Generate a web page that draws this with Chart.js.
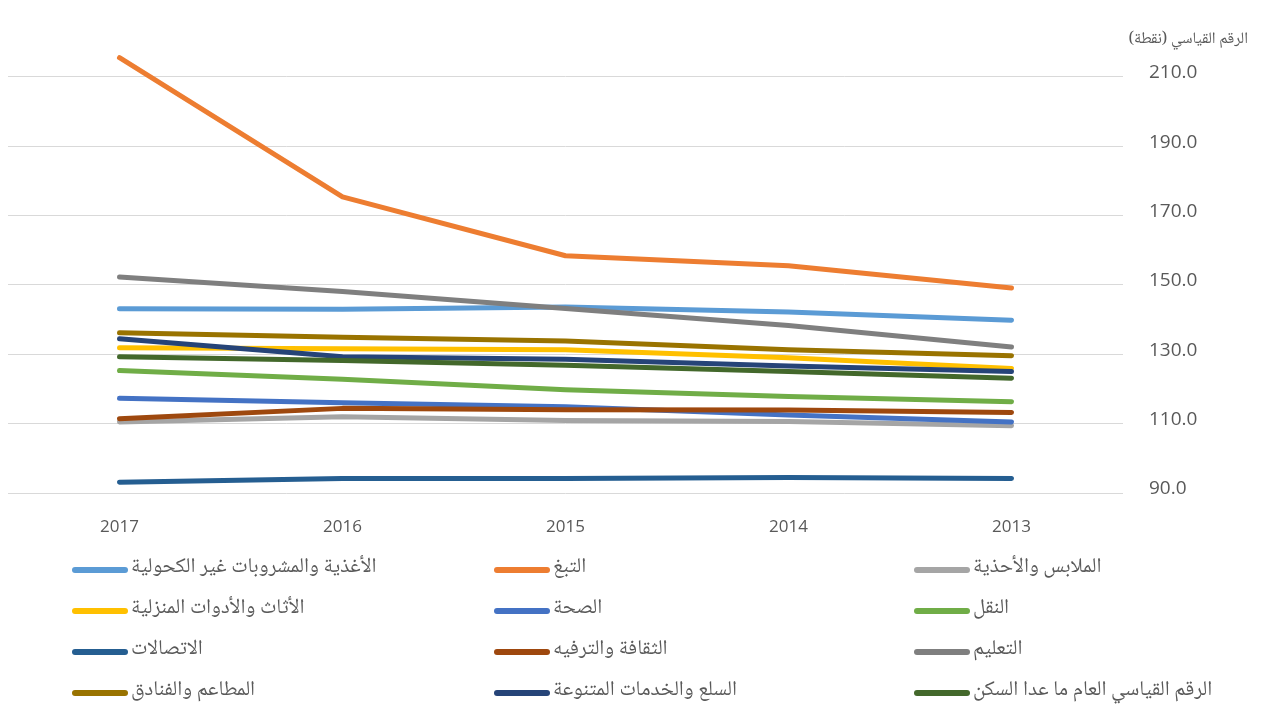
<!DOCTYPE html>
<html>
<head>
<meta charset="utf-8">
<script src="https://cdn.jsdelivr.net/npm/chart.js@4.4.0/dist/chart.umd.min.js"></script>
<style>
html,body{margin:0;padding:0;background:#fff;}
#wrap{position:relative;width:1273px;height:707px;overflow:hidden;}
#c{position:absolute;left:0;top:0;}
#legend{position:absolute;left:0;top:0;width:1273px;height:707px;pointer-events:none;}
.sym{position:absolute;height:6px;width:56px;border-radius:3px;}
.txt{position:absolute;white-space:nowrap;direction:rtl;unicode-bidi:plaintext;font-family:"Noto Naskh Arabic","Noto Sans Arabic","DejaVu Sans",sans-serif;font-size:21px;line-height:26px;color:#595959;}
</style>
</head>
<body>
<div id="wrap">
<canvas id="c" width="1273" height="707"></canvas>
<div id="legend"></div>
</div>
<script>
// ---- data ----
const categories = ['2017', '2016', '2015', '2014', '2013'];
const seriesNames = [
  'الأغذية والمشروبات غير الكحولية',
  'التبغ',
  'الملابس والأحذية',
  'الأثاث والأدوات المنزلية',
  'الصحة',
  'النقل',
  'الاتصالات',
  'الثقافة والترفيه',
  'التعليم',
  'المطاعم والفنادق',
  'السلع والخدمات المتنوعة',
  'الرقم القياسي العام ما عدا السكن'
];
const food            = [143.1, 143.0, 143.6, 142.2, 139.8];
const tobacco         = [215.5, 175.4, 158.4, 155.5, 149.1];
const clothing        = [110.5, 112.0, 110.9, 110.6, 109.4];
const furniture       = [131.9, 131.6, 131.3, 129.0, 125.9];
const health          = [117.3, 116.0, 114.9, 112.5, 110.5];
const transport       = [125.3, 122.8, 119.8, 117.8, 116.3];
const communication   = [93.1, 94.2, 94.2, 94.5, 94.2];
const culture         = [111.4, 114.4, 114.0, 113.9, 113.2];
const education       = [152.3, 148.1, 143.2, 138.3, 132.1];
const restaurants     = [136.2, 134.9, 133.8, 131.3, 129.6];
const miscGoods       = [134.5, 129.3, 128.6, 126.6, 125.0];
const generalExHousing= [129.3, 128.2, 126.8, 125.0, 123.1];
const yTickValues = [90, 110, 130, 150, 170, 190, 210];
const axisTitle = 'الرقم القياسي (نقطة)';

const seriesValues = [food, tobacco, clothing, furniture, health, transport,
  communication, culture, education, restaurants, miscGoods, generalExHousing];
const seriesColors = ['#5B9BD5', '#ED7D31', '#A5A5A5', '#FFC000', '#4472C4', '#70AD47',
  '#255E91', '#9E480E', '#7F7F7F', '#997300', '#264478', '#43682B'];

const arabicFont = '"Noto Naskh Arabic","Noto Sans Arabic","DejaVu Sans",sans-serif';
const numFont = '"Open Sans","Noto Sans",sans-serif';
const textColor = '#595959';

const datasets = seriesNames.map((name, i) => ({
  label: name,
  data: seriesValues[i],
  borderColor: seriesColors[i],
  backgroundColor: seriesColors[i],
  borderWidth: 5,
  borderCapStyle: 'round',
  borderJoinStyle: 'round',
  pointRadius: 0,
  pointHoverRadius: 0,
  tension: 0,
  fill: false,
  order: seriesNames.length - i,
  clip: 6
}));

const titlePlugin = {
  id: 'axisTitle',
  afterDraw(chart) {
    const ctx = chart.ctx;
    ctx.save();
    ctx.direction = 'rtl';
    ctx.font = '16px ' + arabicFont;
    ctx.fillStyle = textColor;
    ctx.textAlign = 'right';
    ctx.textBaseline = 'middle';
    ctx.fillText(axisTitle, 1248, 41);
    ctx.restore();
  }
};

const chart = new Chart(document.getElementById('c'), {
  type: 'line',
  data: { labels: categories, datasets },
  plugins: [titlePlugin],
  options: {
    responsive: false,
    animation: false,
    events: [],
    layout: { padding: { left: 8, top: 56, right: 0, bottom: 174 } },
    plugins: { legend: { display: false }, tooltip: { enabled: false }, title: { display: false } },
    scales: {
      x: {
        type: 'category',
        offset: true,
        grid: { display: false, drawTicks: false },
        border: { display: false },
        ticks: { color: textColor, font: { family: numFont, size: 17 }, padding: 24, maxRotation: 0 },
        afterFit(scale) { scale.height = 40; }
      },
      y: {
        position: 'right',
        min: 90,
        max: 216,
        afterBuildTicks(scale) { scale.ticks = yTickValues.map(v => ({ value: v })); },
        grid: { color: '#D9D9D9', lineWidth: 1, drawTicks: false },
        border: { display: false },
        ticks: {
          color: textColor,
          font: { family: numFont, size: 19 },
          padding: 26,
          labelOffset: -4,
          callback: v => Number(v).toFixed(1)
        },
        afterFit(scale) { scale.width = 150; }
      }
    }
  }
});

// ---- HTML legend in a 3-column grid, built from the chart's datasets ----
const legendEl = document.getElementById('legend');
const colX = [72, 494, 914];
const rowY = [570, 611, 652, 693];
chart.data.datasets.forEach((ds, i) => {
  const col = i % 3, row = Math.floor(i / 3);
  const sym = document.createElement('div');
  sym.className = 'sym';
  sym.style.left = colX[col] + 'px';
  sym.style.top = (rowY[row] - 3) + 'px';
  sym.style.background = ds.borderColor;
  legendEl.appendChild(sym);
  const t = document.createElement('span');
  t.className = 'txt';
  t.textContent = ds.label;
  t.style.left = (colX[col] + 59) + 'px';
  t.style.top = (rowY[row] - 15) + 'px';
  legendEl.appendChild(t);
});
</script>
</body>
</html>
